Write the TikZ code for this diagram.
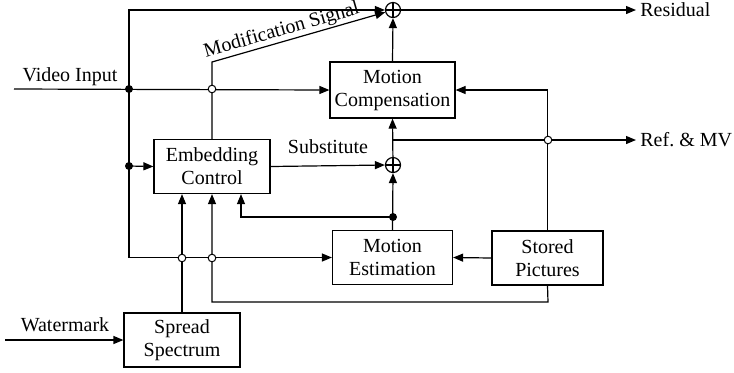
\documentclass[tikz,border=0pt]{standalone}
\usepackage{fontspec}
\setmainfont{Liberation Serif}
\usetikzlibrary{arrows.meta, calc}

\begin{document}
\begin{tikzpicture}[
    x=0.5pt, y=-0.5pt,
    block/.style={rectangle, draw, line width=0.6pt, minimum height=27pt, inner sep=1pt, align=center, font=\fontsize{10}{11.5}\selectfont},
    sum/.style={circle, draw, line width=0.6pt, minimum size=7.5pt, inner sep=0pt,
        path picture={\draw[line width=0.6pt] (path picture bounding box.north) -- (path picture bounding box.south)
            (path picture bounding box.west) -- (path picture bounding box.east);}},
    dot/.style={circle, fill, inner sep=0pt, minimum size=4pt},
    hop/.style={circle, draw, fill=white, line width=0.5pt, inner sep=0pt, minimum size=3.8pt},
    label/.style={inner sep=2pt},
    arrow/.style={-{Triangle[length=5pt,width=4pt]}, line width=0.6pt},
    line/.style={line width=0.6pt}
]
    \useasboundingbox (0,0) rectangle (734,372);

    % Blocks
    \node[block, minimum width=58pt] (embed) at (212,166.5) {Embedding\\Control};
    \node[block, minimum width=62.5pt, minimum height=28pt] (comp) at (392.5,90) {Motion\\Compensation};
    \node[block, minimum width=60pt] (est) at (392.5,257.5) {Motion\\Estimation};
    \node[block, minimum width=55.5pt] (stored) at (547.5,258) {Stored\\Pictures};
    \node[block, minimum width=58pt] (spread) at (182,340) {Spread\\Spectrum};

    % Adders
    \node[sum] (sumres) at (393,10) {};
    \node[sum] (sumsub) at (393,165) {};

    % Inputs and outputs
    \coordinate (vin) at (14,89);
    \coordinate (wm) at (5,340);
    \node[label, anchor=west] (res) at (636,10) {Residual};
    \node[label, anchor=west] (refmv) at (636,140) {Ref.\ \&\ MV};
    \node[label] at (70,77) {Video Input};
    \node[label] at (65,325) {Watermark};
    \node[label] at (328,147) {Substitute};

    % Junctions
    \coordinate (split) at (129,89);
    \coordinate (splitb) at (129,166);
    \coordinate (mvtap) at (393,217);
    \coordinate (reftap) at (393,140);
    \coordinate (modbend) at (212,62);
    \coordinate (fbbend) at (548,302);

    % Signal flows
    \draw[arrow] (vin) -- (comp.west);
    \draw[arrow] (split) |- (sumres.west);
    \draw[arrow] (split) |- (est.west);
    \draw[arrow] (splitb) -- (embed.west);
    \draw[arrow] (embed.north) -- (modbend) -- node[sloped, above, inner sep=0.5pt, pos=0.42] {Modification Signal} (sumres);
    \draw[arrow] (embed.east) -- (sumsub.west);
    \draw[arrow] (sumsub) -- (comp.south);
    \draw[arrow] (comp.north) -- (sumres.south);
    \draw[arrow] (sumres.east) -- (res);
    \draw[arrow] (reftap) -- (refmv);
    \draw[arrow] (stored.north) |- (comp.east);
    \draw[arrow] (stored.west) -- (est.east);
    \draw[arrow] (est.north) -- (sumsub.south);
    \draw[arrow] (mvtap) -| ($(embed.south)+(29,0)$);
    \draw[arrow] (spread.north) -- (spread.north |- embed.south);
    \draw[arrow] (stored.south) -- (fbbend) -| (embed.south);
    \draw[arrow] (wm) -- (spread.west);

    % Crossings
    \node[hop] at (212,89) {};
    \node[hop] at (548,140) {};
    \node[hop] at (182,258) {};
    \node[hop] at (212,258) {};
    \node[dot] at (split) {};
    \node[dot] at (splitb) {};
    \node[dot] at (mvtap) {};
\end{tikzpicture}
\end{document}
